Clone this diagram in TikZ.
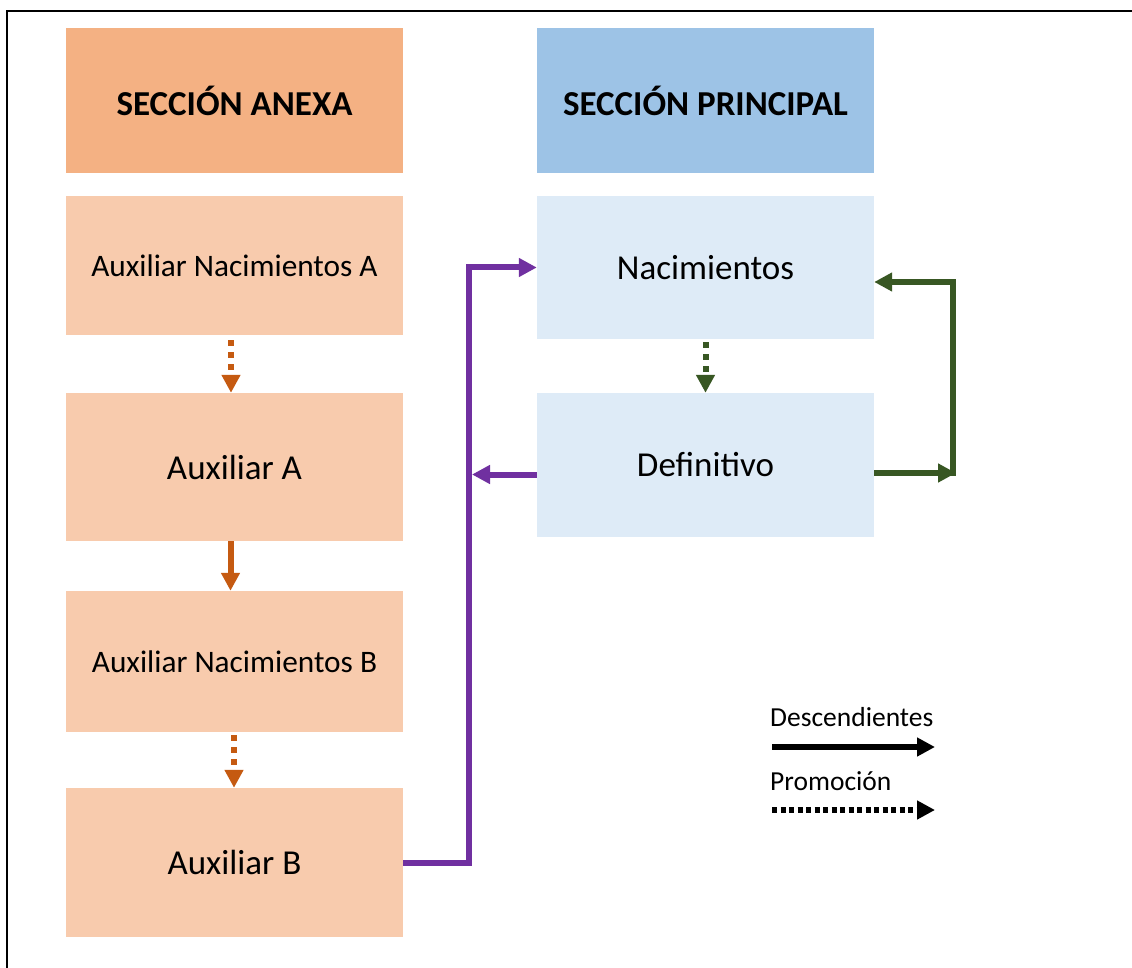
\documentclass[tikz,border=0pt]{standalone}
\usepackage{fontspec}
\setmainfont{Carlito}
\usetikzlibrary{arrows.meta,calc}
\definecolor{hdrA}{HTML}{F4B183}
\definecolor{hdrP}{HTML}{9DC3E6}
\definecolor{boxA}{HTML}{F8CBAD}
\definecolor{boxP}{HTML}{DEEBF7}
\definecolor{orangeC}{HTML}{C55A11}
\definecolor{purpleC}{HTML}{7030A0}
\definecolor{greenC}{HTML}{385723}
\tikzset{
  box/.style={draw=none, inner sep=0pt, minimum width=337pt, anchor=center, text=black},
  hdr/.style={box, font=\fontsize{35}{40}\selectfont\bfseries},
  tip/.style={-{Triangle[length=18pt,width=18pt]}},
  conn/.style={tip, line width=6pt},
  dotline/.style={conn, dash pattern=on 6pt off 6pt},
}
\begin{document}
\begin{tikzpicture}[x=1pt,y=-1pt]
\useasboundingbox (0,0) rectangle (1132,968);
\fill[white] (0,0) rectangle (1132,968);
\draw[line width=2pt] (6.5,970) -- (6.5,11) -- (1134,11);
% headers
\node[hdr, fill=hdrA, minimum height=145pt] (hA) at (234.5,100.5) {SECCIÓN ANEXA};
\node[hdr, fill=hdrP, minimum height=145pt] (hP) at (705.5,100.5) {SECCIÓN PRINCIPAL};
% annex boxes
\node[box, fill=boxA, minimum height=139pt, font=\fontsize{31.3}{36}\selectfont] (nacA) at (234.5,265.5) {Auxiliar Nacimientos A};
\node[box, fill=boxA, minimum height=148pt, font=\fontsize{35}{40}\selectfont] (auxA) at (234.5,467) {Auxiliar A};
\node[box, fill=boxA, minimum height=141pt, font=\fontsize{31.3}{36}\selectfont] (nacB) at (234.5,661.5) {Auxiliar Nacimientos B};
\node[box, fill=boxA, minimum height=149pt, font=\fontsize{35}{40}\selectfont] (auxB) at (234.5,862.5) {Auxiliar B};
% principal boxes
\node[box, fill=boxP, minimum height=143pt, font=\fontsize{35}{40}\selectfont] (nac) at (705.5,267.5) {Nacimientos};
\node[box, fill=boxP, minimum height=144pt, font=\fontsize{35}{40}\selectfont] (def) at (705.5,465) {Definitivo};
% orange arrows
\draw[dotline, orangeC] ([xshift=-3.5pt,yshift=-5pt]nacA.south) -- ([xshift=-3.5pt]auxA.north);
\draw[conn, orangeC] ([xshift=-4pt]auxA.south) -- ([xshift=-4pt]nacB.north);
\draw[dotline, orangeC] ([xshift=-0.5pt,yshift=-3pt]nacB.south) -- ([xshift=-0.5pt]auxB.north);
% green dotted
\draw[dotline, greenC] ([yshift=-3pt]nac.south) -- (def.north);
% purple
\coordinate (pv) at (469,862.5);
\draw[conn, purpleC] (auxB.east) -- (pv) |- (nac.west);
\draw[conn, purpleC] ([yshift=-9.5pt]def.west) -- ([yshift=-9.5pt]def.west -| 472,0);
% green
\coordinate (gr) at (956,473);
\coordinate (gv) at (952.5,476);
\draw[conn, greenC] ([yshift=-8pt]def.east) -- (gr);
\draw[conn, greenC] (gv) |- ([yshift=-14.5pt]nac.east);
% legend
\node[anchor=west, inner sep=0pt, font=\fontsize{27.5}{30}\selectfont] (ld) at (770,717) {Descendientes};
\node[anchor=west, inner sep=0pt, font=\fontsize{27.5}{30}\selectfont] (lp) at (770,781) {Promoción};
\coordinate (l1s) at (772,747);
\coordinate (l1e) at (935,747);
\coordinate (l2s) at (772,810);
\coordinate (l2e) at (935,810);
\draw[conn, black] (l1s) -- (l1e);
\draw[conn, black, line width=5.5pt, dash pattern=on 5pt off 3.5pt] (l2s) -- (l2e);
\end{tikzpicture}
\end{document}
